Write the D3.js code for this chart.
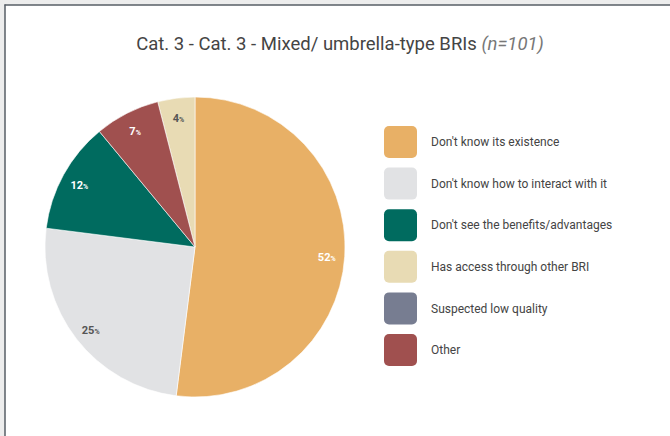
<!DOCTYPE html>
<html>
<head>
<meta charset="utf-8">
<script src="https://cdn.jsdelivr.net/npm/d3@7"></script>
<style>
  html, body { margin: 0; padding: 0; background: #ededed; }
  body { width: 670px; height: 436px; overflow: hidden; }
  svg { display: block; font-family: Roboto, "Noto Sans", sans-serif; }
</style>
</head>
<body>
<svg id="chart" width="670" height="436"></svg>
<script>
// Reasons for not using mixed/umbrella-type BRIs (share of respondents, %)
const categories = [
  "Don't know its existence",
  "Don't know how to interact with it",
  "Don't see the benefits/advantages",
  "Has access through other BRI",
  "Suspected low quality",
  "Other"
];
const values = [52, 25, 12, 4, 0, 7];
const colors = ["#e8b066", "#e1e2e4", "#006b5f", "#e8dbb4", "#777d91", "#a0504f"];
const labelColors = ["#ffffff", "#555555", "#ffffff", "#555555", "#ffffff", "#ffffff"];
const titleMain = "Cat. 3 - Cat. 3 - Mixed/ umbrella-type BRIs ";
const titleNote = "(n=101)";

const data = categories.map((c, i) => ({ name: c, value: values[i], color: colors[i], labelColor: labelColors[i] }));

const svg = d3.select("#chart");

// panel with a dark frame on the top and left edges
svg.append("rect").attr("x", 5).attr("y", 5).attr("width", 665).attr("height", 431).attr("fill", "#ffffff");
svg.append("line").attr("x1", 4.5).attr("x2", 670).attr("y1", 5).attr("y2", 5)
  .attr("stroke", "#575e66").attr("stroke-width", 1.5);
svg.append("line").attr("x1", 5).attr("x2", 5).attr("y1", 4.5).attr("y2", 436)
  .attr("stroke", "#575e66").attr("stroke-width", 1.5);

// title
const title = svg.append("text").attr("x", 340).attr("y", 50).attr("text-anchor", "middle")
  .attr("font-size", 18.5).attr("fill", "#444444");
title.append("tspan").text(titleMain);
title.append("tspan").attr("font-style", "italic").attr("fill", "#777777").text(titleNote);

// pie
const cx = 195, cy = 247, R = 150, labelR = 132;
const pie = d3.pie().value(d => d.value).sort((a, b) => b.value - a.value);
const arc = d3.arc().innerRadius(0).outerRadius(R);
const labelArc = d3.arc().innerRadius(labelR).outerRadius(labelR);

const g = svg.append("g").attr("transform", `translate(${cx},${cy})`);
const arcs = pie(data).filter(d => d.data.value > 0);

g.selectAll("path").data(arcs).join("path")
  .attr("d", arc)
  .attr("fill", d => d.data.color)
  .attr("stroke", "#ffffff")
  .attr("stroke-width", 0.6);

const lbl = g.selectAll("text.lbl").data(arcs).join("text")
  .attr("class", "lbl")
  .attr("transform", d => `translate(${labelArc.centroid(d)})`)
  .attr("text-anchor", "middle")
  .attr("dy", "0.35em")
  .attr("font-weight", "bold")
  .attr("fill", d => d.data.labelColor);
lbl.append("tspan").attr("font-size", 11).text(d => d.data.value);
lbl.append("tspan").attr("font-size", 7).text("%");

// legend
const legendY = d3.scalePoint().domain(categories).range([142, 350]);
const leg = svg.append("g").selectAll("g").data(data).join("g")
  .attr("transform", d => `translate(384,${legendY(d.name)})`);
leg.append("rect").attr("x", 0).attr("y", -16).attr("width", 33).attr("height", 32)
  .attr("rx", 5).attr("fill", d => d.color);
leg.append("text").attr("x", 47).attr("y", 0).attr("dy", "0.35em")
  .attr("font-size", 12).attr("fill", "#444444").text(d => d.name);
</script>
</body>
</html>
